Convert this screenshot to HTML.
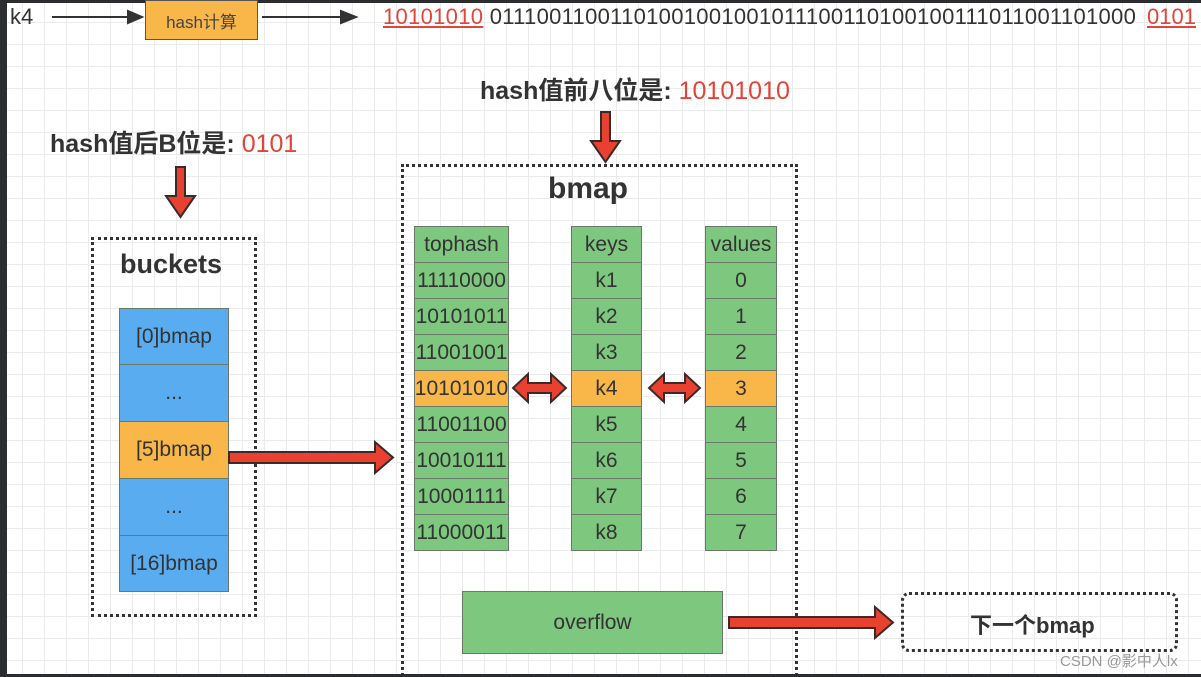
<!DOCTYPE html>
<html><head><meta charset="utf-8"><style>
*{margin:0;padding:0;box-sizing:border-box}
html,body{width:1201px;height:677px;overflow:hidden}
body{position:relative;background:#fff;
background-image:linear-gradient(#ebebeb 1px,transparent 1px),linear-gradient(90deg,#ebebeb 1px,transparent 1px);background-size:22px 22px;
font-family:"Liberation Sans","Noto Sans CJK SC",sans-serif;color:#333}
.a{position:absolute}
.t{position:absolute;white-space:nowrap}
.dot{position:absolute;border:3px dotted #333}
.cell{position:absolute;display:flex;align-items:center;justify-content:center;border:1.5px solid #6a7a6a;font-size:21px;color:#333}
.g{background:#7dc77f}.o{background:#f9b74a}.b{background:#5aacf0}
.red{color:#e2443a}
</style></head><body>
<div class="a" style="left:0;top:0;width:7px;height:677px;background:#2b2d30"></div>
<div class="a" style="left:0;top:0;width:1201px;height:3px;background:#2b2d30"></div>

<div class="t" style="left:10px;top:4px;font-size:22px">k4</div>
<div class="a" style="left:145px;top:0;width:113px;height:40px;background:#f9b74a;border:1.5px solid #555;display:flex;align-items:center;justify-content:center;font-size:17px;color:#444">hash计算</div>
<div class="t" style="left:383px;top:4px;font-size:22px;letter-spacing:0.3px"><span class="red" style="text-decoration:underline">10101010</span> 01110011001101001001001011100110100100111011001101000</div>
<div class="t red" style="left:1147px;top:4px;font-size:22px;text-decoration:underline">0101</div>

<div class="t" style="left:480px;top:71px;font-size:25px;font-weight:bold">hash值前八位是: <span class="red" style="font-weight:normal">10101010</span></div>
<div class="t" style="left:50px;top:124px;font-size:25px;font-weight:bold">hash值后B位是: <span class="red" style="font-weight:normal">0101</span></div>

<div class="dot" style="left:91px;top:237px;width:166px;height:380px"></div>
<div class="t" style="left:120px;top:249px;font-size:27px;font-weight:bold">buckets</div>
<div class="cell b" style="left:119px;top:308px;width:110px;height:57px">[0]bmap</div>
<div class="cell b" style="left:119px;top:364px;width:110px;height:58px">...</div>
<div class="cell o" style="left:119px;top:421px;width:110px;height:58px">[5]bmap</div>
<div class="cell b" style="left:119px;top:478px;width:110px;height:58px">...</div>
<div class="cell b" style="left:119px;top:535px;width:110px;height:57px">[16]bmap</div>

<div class="dot" style="left:401px;top:164px;width:397px;height:530px"></div>
<div class="t" style="left:548px;top:172px;font-size:30px;font-weight:bold">bmap</div>

<div class="a" style="left:414px;top:226px">
<div class="cell g" style="left:0;top:0;width:95px;height:37px">tophash</div>
<div class="cell g" style="left:0;top:36px;width:95px;height:37px">11110000</div>
<div class="cell g" style="left:0;top:72px;width:95px;height:37px">10101011</div>
<div class="cell g" style="left:0;top:108px;width:95px;height:37px">11001001</div>
<div class="cell o" style="left:0;top:144px;width:95px;height:37px">10101010</div>
<div class="cell g" style="left:0;top:180px;width:95px;height:37px">11001100</div>
<div class="cell g" style="left:0;top:216px;width:95px;height:37px">10010111</div>
<div class="cell g" style="left:0;top:252px;width:95px;height:37px">10001111</div>
<div class="cell g" style="left:0;top:288px;width:95px;height:37px">11000011</div>
</div>
<div class="a" style="left:571px;top:226px">
<div class="cell g" style="left:0;top:0;width:71px;height:37px">keys</div>
<div class="cell g" style="left:0;top:36px;width:71px;height:37px">k1</div>
<div class="cell g" style="left:0;top:72px;width:71px;height:37px">k2</div>
<div class="cell g" style="left:0;top:108px;width:71px;height:37px">k3</div>
<div class="cell o" style="left:0;top:144px;width:71px;height:37px">k4</div>
<div class="cell g" style="left:0;top:180px;width:71px;height:37px">k5</div>
<div class="cell g" style="left:0;top:216px;width:71px;height:37px">k6</div>
<div class="cell g" style="left:0;top:252px;width:71px;height:37px">k7</div>
<div class="cell g" style="left:0;top:288px;width:71px;height:37px">k8</div>
</div>
<div class="a" style="left:705px;top:226px">
<div class="cell g" style="left:0;top:0;width:72px;height:37px">values</div>
<div class="cell g" style="left:0;top:36px;width:72px;height:37px">0</div>
<div class="cell g" style="left:0;top:72px;width:72px;height:37px">1</div>
<div class="cell g" style="left:0;top:108px;width:72px;height:37px">2</div>
<div class="cell o" style="left:0;top:144px;width:72px;height:37px">3</div>
<div class="cell g" style="left:0;top:180px;width:72px;height:37px">4</div>
<div class="cell g" style="left:0;top:216px;width:72px;height:37px">5</div>
<div class="cell g" style="left:0;top:252px;width:72px;height:37px">6</div>
<div class="cell g" style="left:0;top:288px;width:72px;height:37px">7</div>
</div>

<div class="cell g" style="left:462px;top:591px;width:261px;height:63px">overflow</div>
<div class="dot" style="left:901px;top:592px;width:277px;height:60px;border-radius:8px"></div>
<div class="t" style="left:970px;top:608px;font-size:22px;font-weight:bold">下一个bmap</div>
<div class="t" style="left:1060px;top:650px;font-size:15px;color:#999">CSDN @影中人lx</div>

<svg class="a" style="left:0;top:0" width="1201" height="677">
<g stroke="#333" stroke-width="2" fill="#333">
<line x1="52" y1="17" x2="130" y2="17"/><polygon points="128,11 142,17 128,23"/>
<line x1="262" y1="17" x2="343" y2="17"/><polygon points="341,11 356,17 341,23"/>
</g>
<g fill="#e8412f" stroke="#3a2a2a" stroke-width="2" stroke-linejoin="miter">
<polygon points="601,112 610,112 610,141 620,141 605.5,162 591,141 601,141"/>
<polygon points="176,167 185,167 185,196 195,196 180.5,217 166,196 176,196"/>
<polygon points="229,452 375,452 375,442 393,457.5 375,473 375,463 229,463"/>
<polygon points="729,617 875,617 875,607 893,622.5 875,638 875,628 729,628"/>
<polygon points="513,388 528,374 528,383 551,383 551,374 566,388 551,402 551,393 528,393 528,402"/>
<polygon points="649,388 664,374 664,383 685,383 685,374 700,388 685,402 685,393 664,393 664,402"/>
</g>
</svg>
<div class="a" style="left:0;top:674px;width:1201px;height:3px;background:#2b2d30"></div>
</body></html>
